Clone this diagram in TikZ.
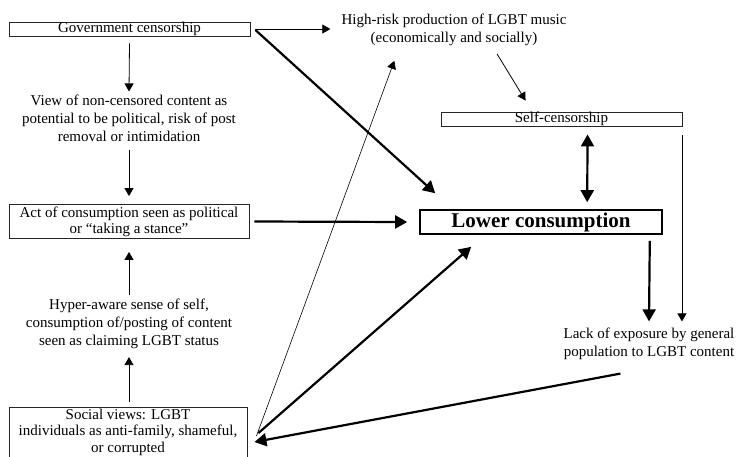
\documentclass[tikz,border=0pt]{standalone}
\usepackage{fontspec}
\setmainfont{Liberation Serif}
\usetikzlibrary{arrows.meta,calc}
\begin{document}
\begin{tikzpicture}[x=1pt,y=-1pt,
  txt/.style={font=\fontsize{15}{18}\selectfont, align=center, inner sep=0pt},
  box/.style={txt, draw=black!85, line width=0.9pt},
  thinarr/.style={line width=0.8pt, -{Triangle[length=8pt,width=9pt]}},
  thickarr/.style={line width=2.2pt, -{Triangle[length=12pt,width=13pt]}},
  dblarr/.style={line width=2.2pt, {Triangle[length=12pt,width=13pt]}-{Triangle[length=12pt,width=13pt]}},
]
\useasboundingbox (0,0) rectangle (737,456);

% nodes
\node[box, minimum width=241pt, minimum height=14pt, text height=10pt, text depth=3pt] (gov) at (129.5,29) {Government censorship};
\node[txt] (view) at (129,118) {View of non-censored content as\\potential to be political, risk of post\\removal or intimidation};
\node[box, minimum width=240pt, minimum height=34pt, font=\fontsize{15}{16.5}\selectfont] (act) at (129,221.5) {\rule{0pt}{11.5pt}Act of consumption seen as political\\or “taking a stance”};
\node[txt] (hyper) at (129,324) {Hyper-aware sense of self,\\consumption of/posting of content\\seen as claiming LGBT status};
\node[box, anchor=north, minimum width=238pt, inner ysep=1.5pt, font=\fontsize{15}{16.5}\selectfont] (social) at (128,407) {Social views: LGBT\\individuals as anti-family, shameful,\\or corrupted};
\node[txt, font=\fontsize{15}{17.5}\selectfont] (risk) at (454,30) {High-risk production of LGBT music\\(economically and socially)};
\node[box, minimum width=241pt, minimum height=14pt, text height=10pt, text depth=3pt] (self) at (561.5,119) {Self-censorship};
\node[draw, line width=1.6pt, minimum width=242pt, minimum height=24pt, inner sep=0pt, font=\fontsize{21}{24}\selectfont\bfseries] (lower) at (541,222) {Lower consumption};
\node[txt] (lack) at (649,343.5) {Lack of exposure by general\\population to LGBT content};

% connectors
\draw[thinarr] ($(gov.east)+(5,0)$) -- ($(risk.west)+(-11,-1)$);
\draw[thickarr] ($(gov.east)+(5,1)$) -- ($(lower.north west)+(16,-16)$);
\draw[thinarr] ($(gov.south)+(0,7)$) -- ($(view.north)+(0,-3)$);
\draw[thinarr] ($(view.south)+(0,8)$) -- ($(act.north)+(0,-8)$);
\draw[thinarr] ($(hyper.north)+(0,-4)$) -- ($(act.south)+(0,13)$);
\draw[thinarr] ($(social.north)+(1,-5)$) -- ($(hyper.south)+(0,8)$);
\draw[thickarr] ($(act.east)+(5,0)$) -- ($(lower.west)+(-12,0)$);
\draw[thinarr, line width=0.6pt] ($(social.north east)+(9,29)$) -- ($(risk.south west)+(53,15)$);
\draw[thickarr] ($(social.north east)+(11,26)$) -- ($(lower.south west)+(52,12)$);
\draw[thickarr] ($(lack.south west)+(57,14)$) -- ($(social.north east)+(7,35)$);
\draw[thinarr] ($(risk.south)+(43,8)$) -- ($(self.north west)+(85,-11)$);
\draw[dblarr] ($(self.south west)+(147,8)$) -- ($(lower.north west)+(168,-7)$);
\draw[thickarr] ($(lower.south east)+(-13,6)$) -- ($(lack.north)+(0,-6)$);
\draw[thinarr] ($(self.south east)+(-0.5,9)$) -- ($(self.south east)+(-0.5,195)$);
\end{tikzpicture}
\end{document}
